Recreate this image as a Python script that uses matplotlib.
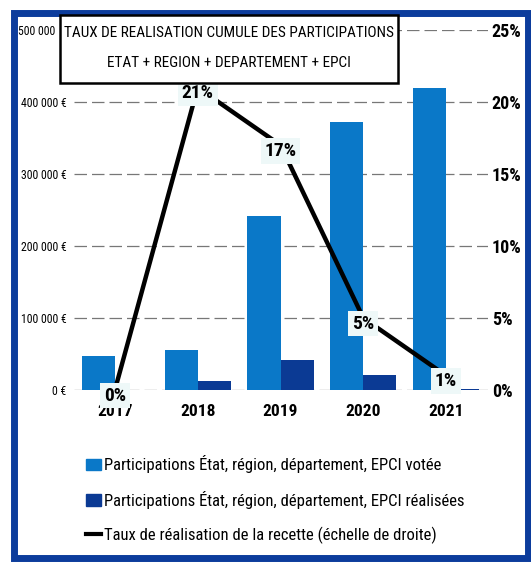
"""
Taux de realisation cumule des participations (Etat + region + departement + EPCI).
"""
import matplotlib
matplotlib.use("Agg")
import matplotlib.pyplot as plt
from matplotlib import font_manager
from matplotlib.patches import Rectangle, Patch
from matplotlib.lines import Line2D
from matplotlib.transforms import ScaledTranslation

# data
years = ["2017", "2018", "2019", "2020", "2021"]
votee = [47000, 55500, 242000, 372000, 420000]
realisee = [0, 13000, 41500, 21000, 2000]
taux = [0, 21, 17, 5, 1]

left_ticks = [0, 100000, 200000, 300000, 400000, 500000]
left_labels = ["0 €", "100 000 €", "200 000 €", "300 000 €", "400 000 €", "500 000"]
right_ticks = [0, 5, 10, 15, 20, 25]

title_lines = ["TAUX DE REALISATION CUMULE DES PARTICIPATIONS",
               "ETAT + REGION + DEPARTEMENT + EPCI"]
legend_labels = ["Participations État, région, département, EPCI votée",
                 "Participations État, région, département, EPCI réalisées",
                 "Taux de réalisation de la recette (échelle de droite)"]

c_votee = "#0a78c8"
c_real = "#0b3a94"
c_frame = "#0c3c9c"

# the scan uses an Arial Narrow look, take the closest condensed face we have
names = {f.name for f in font_manager.fontManager.ttflist}
prefs = ["Roboto Condensed", "Arimo Narrow", "IBM Plex Sans Condensed",
         "Sofia Sans Condensed", "Fira Sans Extra Condensed", "Liberation Sans"]
narrow = next(n for n in prefs if n in names)
plt.rcParams["font.family"] = [narrow, "DejaVu Sans"]

W, H = 531, 564
fig = plt.figure(figsize=(W / 100, H / 100), dpi=100)
ax = fig.add_axes([73.5 / W, 1 - 390 / H, 414 / W, 360 / H])
ax2 = ax.twinx()

x = range(len(years))
bw = 0.4
ax.bar([i - bw / 2 for i in x], votee, bw, color=c_votee, zorder=2)
ax.bar([i + bw / 2 for i in x], realisee, bw, color=c_real, zorder=2)
ax.set_ylim(0, 500000)
ax.set_xlim(-0.5, 4.5)
ax.set_yticks(left_ticks)
ax.set_yticklabels(left_labels, fontsize=8.5)
ax.set_xticks(list(x))
ax.set_xticklabels(years, fontsize=12.5, fontweight="bold")
ax.tick_params(axis="x", length=0, pad=10)
ax.tick_params(axis="y", length=0, pad=5)
ax.grid(axis="y", color="#777777", lw=0.9, ls=(0, (10, 4)), zorder=0)
for s in ax.spines.values():
    s.set_visible(False)
# top label sits left of the title box
top = ax.get_yticklabels()[-1]
top.set_transform(top.get_transform() + ScaledTranslation(-11 / 100, 0, fig.dpi_scale_trans))

ax2.plot(list(x), taux, color="black", lw=3.2, zorder=3)
for i, t in enumerate(taux):
    ax2.annotate(f"{t}%", (i, t), xytext=(0, -4), textcoords="offset points",
                 ha="center", va="center", fontsize=14, fontweight="bold",
                 zorder=4,
                 bbox=dict(boxstyle="square,pad=0.2", fc="#eef8f8", ec="none"))
ax2.set_ylim(0, 25)
ax2.set_yticks(right_ticks)
ax2.set_yticklabels([f"{t}%" for t in right_ticks], fontsize=13, fontweight="bold")
ax2.tick_params(axis="y", length=0, pad=3)
for s in ax2.spines.values():
    s.set_visible(False)

# title box, drawn over the axes like in the original
fig.patches.append(Rectangle((60 / W, 1 - 83 / H), 338 / W, 68 / H,
                             transform=fig.transFigure, fc="white", ec="black",
                             lw=1.8, zorder=5))
fig.text(229 / W, 1 - 33 / H, title_lines[0], ha="center", va="center",
         fontsize=11, zorder=6)
fig.text(229 / W, 1 - 63 / H, title_lines[1], ha="center", va="center",
         fontsize=11, zorder=6)

# outer blue frame
fig.patches.append(Rectangle((14 / W, 1 - 558 / H), 514 / W, 545 / H,
                             transform=fig.transFigure, fc="none", ec=c_frame,
                             lw=5, zorder=1))

handles = [Patch(color=c_votee), Patch(color=c_real),
           Line2D([0], [0], color="black", lw=3)]
fig.legend(handles, legend_labels, loc="upper left",
           bbox_to_anchor=(78 / W, 1 - 447 / H), frameon=False, fontsize=12,
           handlelength=0.9, handletextpad=0.15, labelspacing=1.05,
           borderpad=0)

fig.savefig("out.png", dpi=100)
